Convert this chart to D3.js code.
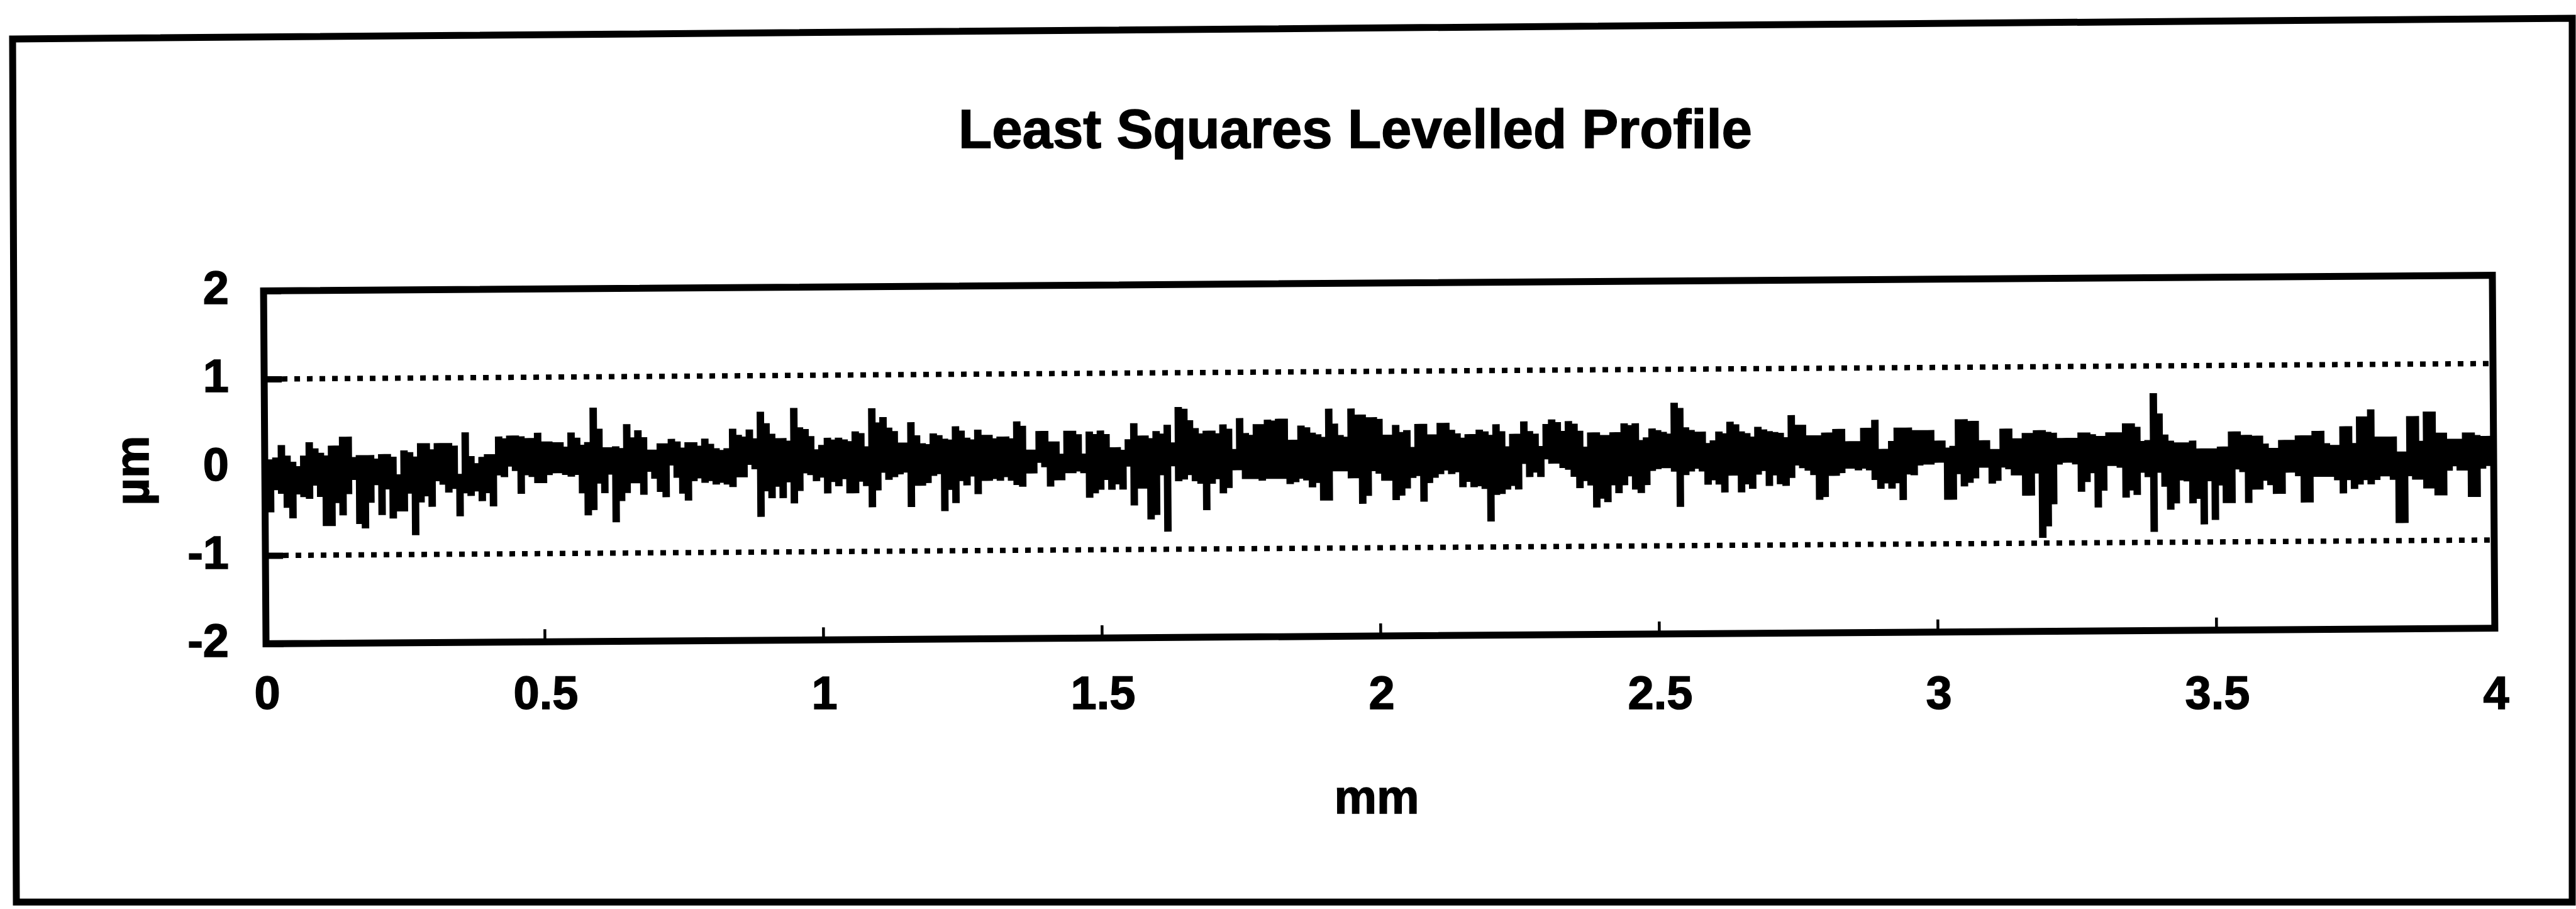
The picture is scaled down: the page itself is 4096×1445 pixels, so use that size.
<!DOCTYPE html>
<html>
<head>
<meta charset="utf-8">
<script src="https://cdn.jsdelivr.net/npm/d3@7"></script>
<style>
  body { margin: 0; background: #fff; }
  svg { display: block; }
  text { font-family: "Liberation Sans", Arial, sans-serif; font-weight: bold; fill: #000; stroke: #000; stroke-width: 1.5px; }
</style>
</head>
<body>
<div id="chart"></div>
<script>
// Profile, one column every 0.01 mm (0 .. 4 mm).
// Upper and lower edge of the trace in each column, in 0.01 µm.
var stepMm = 0.01;

var profileUpper = [
  5, 8, 10, 24, 12, 5, 0, 12, 27, 20, 15, 12, 23, 23, 33, 33, 10, 12, 12, 12,
  8, 13, 13, 10, -10, 17, 15, 10, 25, 25, 18, 25, 25, 25, 22, -10, 37, 10, 2, 9,
  12, 12, 32, 30, 33, 33, 32, 30, 30, 36, 26, 26, 25, 25, 20, 36, 30, 22, 25, 64,
  40, 19, 19, 20, 18, 45, 30,
  38, 30, 16, 16, 23, 23, 28, 25, 18, 24, 24, 20, 28, 22, 17, 15, 17, 39, 32, 30,
  38, 28, 58, 45, 33, 28, 28, 25, 62, 40, 38, 30, 15, 20, 28, 26, 28, 26, 24, 35,
  33, 18, 61, 45, 51, 39, 35, 22, 22, 45, 30, 21, 20, 32, 30, 26, 25, 40, 35, 27,
  25, 36, 30, 30, 26, 28, 28, 26, 45,
  40, 13, 13, 34, 34, 22, 22, 8, 34, 34, 30, 8, 33, 30, 34, 30, 15, 15, 12, 24,
  42, 28, 28, 25, 33, 30, 40, 20, 60, 58, 45, 36, 30, 33, 33, 30, 40, 35, 12, 47,
  30, 28, 40, 40, 45, 44, 46, 46, 22, 22, 38, 36, 30, 28, 25, 57, 40, 27, 25, 57,
  50, 50, 47, 47, 45, 27, 27, 38, 30,
  32, 13, 39, 39, 27, 27, 40, 40, 32, 28, 23, 27, 27, 32, 30, 26, 38, 30, 13, 27,
  27, 41, 30, 27, 13, 38, 43, 40, 30, 41, 38, 30, 12, 28, 28, 25, 25, 28, 28, 38,
  36, 38, 19, 22, 32, 30, 28, 26, 61, 55, 33, 30, 28, 28, 15, 18, 28, 26, 39, 36,
  28, 26, 22, 33, 30, 28, 27, 26,
  21, 46, 35, 35, 23, 23, 23, 26, 26, 30, 30, 16, 16, 16, 31, 31, 40, 7, 7, 16,
  31, 31, 31, 28, 28, 28, 28, 16, 16, 8, 10, 40, 40, 38, 38, 16, 16, 6, 6, 29,
  29, 18, 18, 24, 24, 27, 27, 25, 24, 18, 18, 18, 18, 24, 24, 22, 20, 20, 24, 24,
  24, 34, 34, 30, 14, 15, 68, 45,
  21, 14, 12, 12, 12, 14, 5, 5, 5, 5, 7, 7, 24, 24, 20, 20, 19, 19, 10, 5,
  5, 14, 14, 14, 19, 19, 19, 24, 24, 10, 8, 8, 29, 29, 10, 40, 40, 48, 17, 17,
  17, 17, 0, 0, 40, 40, 12, 45, 45, 21, 21, 14, 14, 14, 21, 21, 18, 17, 17, 15
];

var profileLower = [
  -20, -50, -25, -29, -45, -57, -30, -33, -35, -20, -33, -66, -66, -40, -54, -30, -14, -64, -69, -40,
  -20, -54, -25, -58, -50, -50, -30, -77, -40, -33, -45, -16, -20, -29, -25, -56, -30, -33, -28, -39,
  -30, -45, -10, -12, 0, -5, -31, -10, -12, -19, -19, -10, -8, -8, -10, -12, -10, -31, -56, -50,
  -20, -31, -10, -64, -40, -31, -20,
  -20, -33, -7, -15, -30, -36, 0, -14, -32, -40, -18, -15, -20, -18, -22, -20, -22, -25, -14, -14,
  0, -5, -59, -30, -38, -25, -38, -20, -44, -30, -10, -12, -19, -15, -33, -20, -25, -17, -33, -33,
  -20, -25, -49, -30, -10, -18, -15, -12, -10, -49, -25, -25, -22, -14, -12, -54, -30, -45, -20, -25,
  -15, -35, -20, -20, -18, -20, -16, -20, -25,
  -27, -12, -12, 0, -5, -27, -20, -20, -12, -12, -10, -12, -40, -35, -31, -20, -31, -25, -31, -5,
  -49, -30, -30, -65, -60, -15, -79, -5, -22, -20, -15, -22, -25, -55, -25, -20, -36, -30, -10, -10,
  -20, -20, -20, -22, -20, -20, -20, -20, -26, -24, -20, -22, -30, -25, -45, -45, -12, -12, -12, -20,
  -20, -49, -40, -12, -15, -23, -23, -45, -40,
  -32, -20, -18, -47, -26, -20, -16, -12, -16, -14, -31, -25, -31, -30, -33, -70, -40, -39, -34, -30,
  -34, -5, -20, -15, -20, 0, -5, -5, -10, -12, -20, -33, -25, -30, -55, -45, -49, -30, -39, -30,
  -20, -35, -39, -30, -14, -12, -11, -11, -15, -55, -19, -15, -12, -15, -30, -25, -30, -39, -20, -20,
  -39, -30, -35, -19, -15, -32, -20, -30,
  -32, -23, -9, -12, -15, -20, -48, -45, -21, -21, -18, -13, -13, -15, -13, -15, -26, -36, -30, -36,
  -30, -49, -20, -21, -10, -9, -9, -7, -7, -49, -49, -20, -34, -30, -25, -13, -13, -31, -28, -13,
  -15, -22, -22, -45, -45, -20, -93, -80, -55, -10, -8, -8, -10, -41, -30, -20, -59, -40, -12, -12,
  -14, -48, -40, -45, -20, -25, -87, -20,
  -36, -62, -55, -29, -30, -55, -50, -79, -30, -74, -35, -55, -55, -17, -20, -55, -40, -40, -30, -35,
  -45, -45, -21, -21, -25, -55, -55, -26, -26, -26, -26, -30, -45, -30, -40, -35, -30, -35, -30, -26,
  -26, -30, -79, -79, -26, -30, -30, -40, -40, -48, -48, -20, -15, -20, -20, -50, -50, -18, -15, -10
];

var xTicks = [0, 0.5, 1, 1.5, 2, 2.5, 3, 3.5, 4];
var yTicks = [-2, -1, 0, 1, 2];
var limitLines = [-1, 1];

var titleText = "Least Squares Levelled Profile";
var xTitle = "mm";
var yTitle = "µm";

// Set up SVG frame
var svgWidth = 4096;
var svgHeight = 1445;

var plot = { left: 421, right: 3965, top: 450, bottom: 1011 };
var tilt = -0.4;   // the scanned plot box leans a little

var svg = d3.select("#chart")
  .append("svg")
  .attr("width", svgWidth)
  .attr("height", svgHeight);

svg.append("rect")
  .attr("width", svgWidth)
  .attr("height", svgHeight)
  .attr("fill", "#fff");

// outer border of the chart
var frameCorners = [[20, 62], [4090, 29], [4090, 1434], [26, 1434]];
svg.append("path")
  .attr("d", d3.line()(frameCorners) + "Z")
  .attr("fill", "none")
  .attr("stroke", "#000")
  .attr("stroke-width", 11)
  .attr("stroke-linejoin", "miter");

// scales
var x = d3.scaleLinear().domain([0, 4]).range([plot.left, plot.right]);
var y = d3.scaleLinear().domain([-2, 2]).range([plot.bottom, plot.top]);

var cx = (plot.left + plot.right) / 2;
var cy = (plot.top + plot.bottom) / 2;

var plotGroup = svg.append("g")
  .attr("transform", `rotate(${tilt}, ${cx}, ${cy})`);

// dotted lines at +1 and -1
plotGroup.selectAll(".limit")
  .data(limitLines)
  .enter()
  .append("line")
  .attr("class", "limit")
  .attr("x1", plot.left + 28)
  .attr("x2", plot.right - 4)
  .attr("y1", d => y(d))
  .attr("y2", d => y(d))
  .attr("stroke", "#000")
  .attr("stroke-width", 8.5)
  .attr("stroke-dasharray", "9 11");

// profile trace
var profile = profileUpper.map(function(u, i) {
  return { mm: i * stepMm, hi: u / 100, lo: profileLower[i] / 100 };
});

var traceArea = d3.area()
  .x(d => x(d.mm))
  .y0(d => y(d.lo))
  .y1(d => y(d.hi))
  .curve(d3.curveStep);

plotGroup.append("path")
  .datum(profile)
  .attr("d", traceArea)
  .attr("fill", "#000")
  .attr("stroke", "#000")
  .attr("stroke-width", 3)
  .attr("stroke-linejoin", "miter");

// inside ticks
var leftAxis = d3.axisLeft(y).tickValues(yTicks).tickSize(-28).tickFormat("");
var bottomAxis = d3.axisBottom(x).tickValues(xTicks).tickSize(-20).tickFormat("");

var yAxis = plotGroup.append("g")
  .attr("transform", `translate(${plot.left}, 0)`)
  .call(leftAxis);
yAxis.select(".domain").remove();
yAxis.selectAll("line").attr("stroke", "#000").attr("stroke-width", 10);

var xAxis = plotGroup.append("g")
  .attr("transform", `translate(0, ${plot.bottom})`)
  .call(bottomAxis);
xAxis.select(".domain").remove();
xAxis.selectAll("line").attr("stroke", "#000").attr("stroke-width", 4.5);

// plot border
plotGroup.append("rect")
  .attr("x", plot.left)
  .attr("y", plot.top)
  .attr("width", plot.right - plot.left)
  .attr("height", plot.bottom - plot.top)
  .attr("fill", "none")
  .attr("stroke", "#000")
  .attr("stroke-width", 11);

// tick labels
svg.selectAll(".ylab")
  .data(yTicks)
  .enter()
  .append("text")
  .attr("class", "ylab")
  .attr("x", 364)
  .attr("y", d => y(d) + 33)
  .attr("text-anchor", "end")
  .attr("font-size", "74px")
  .text(d => d);

svg.selectAll(".xlab")
  .data(xTicks)
  .enter()
  .append("text")
  .attr("class", "xlab")
  .attr("x", d => x(d) + 4)
  .attr("y", 1127)
  .attr("text-anchor", "middle")
  .attr("font-size", "74px")
  .text(d => d);

// title and axis titles
svg.append("text")
  .attr("x", 2155)
  .attr("y", 235)
  .attr("text-anchor", "middle")
  .attr("font-size", "87px")
  .text(titleText);

svg.append("text")
  .attr("x", 2189)
  .attr("y", 1293)
  .attr("text-anchor", "middle")
  .attr("font-size", "76px")
  .text(xTitle);

svg.append("text")
  .attr("transform", "translate(236, 748) rotate(-90)")
  .attr("text-anchor", "middle")
  .attr("font-size", "76px")
  .text(yTitle);
</script>
</body>
</html>
